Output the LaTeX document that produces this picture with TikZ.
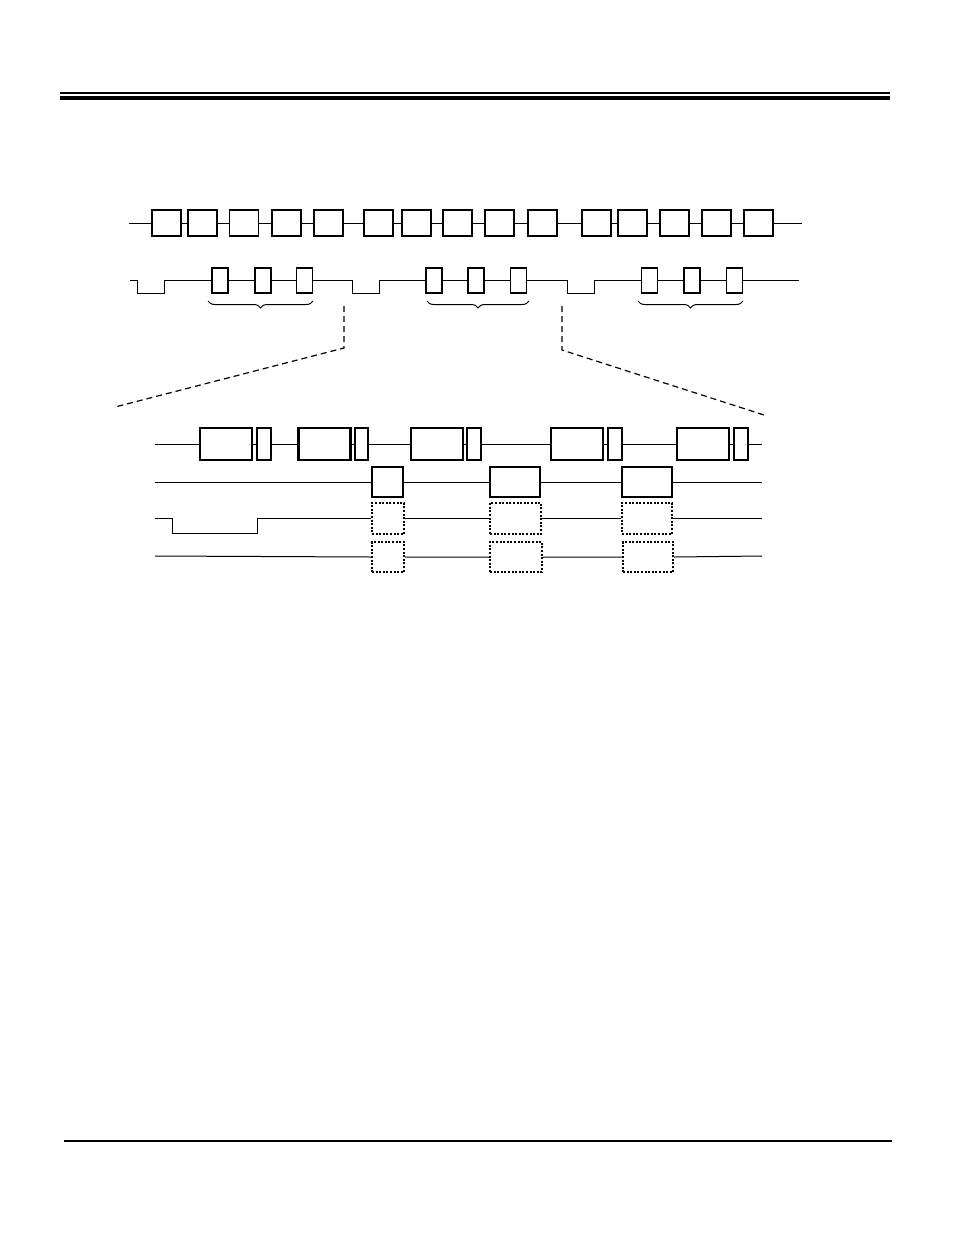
\documentclass[tikz,border=0pt]{standalone}
\usetikzlibrary{decorations.pathreplacing}
\begin{document}
\begin{tikzpicture}[x=1pt,y=-1pt,
  wire/.style={line width=1pt},
  tbox/.style={draw,fill=white,line width=1.5pt,inner sep=0pt,minimum width=29pt,minimum height=26pt},
  sbox/.style={draw,fill=white,line width=1.4pt,inner sep=0pt,minimum width=16pt,minimum height=25pt},
  bigbox/.style={draw,fill=white,line width=2.2pt,inner sep=0pt,minimum height=32pt},
  midbox/.style={draw,fill=white,line width=2pt,inner sep=0pt,minimum height=30pt},
  dotbox/.style={draw,fill=white,line width=2pt,dash pattern=on 2pt off 1.6pt,inner sep=0pt,minimum height=30pt},
  zoomline/.style={line width=1.2pt,dash pattern=on 6pt off 4pt},
  grp/.style={line width=1pt,decorate,decoration={brace,mirror,amplitude=7pt}}]
\useasboundingbox (0,0) rectangle (954,1235);
% page rules
\draw[line width=1.3pt] (60,93) -- (890,93);
\draw[line width=4pt] (60,98) -- (890,98);
\draw[line width=2.5pt] (64,1141) -- (892,1141);

% ---------- top row ----------
\coordinate (ts) at (129,223);
\coordinate (te) at (802,223);
\foreach \i/\x in {1/166.5,2/202.5,3/244,4/286.5,5/328.5,6/378.5,7/416.5,8/457.5,9/499.5,10/542.5,11/596.5,12/632.5,13/674.5,14/716.5,15/758.5}
  \node[tbox] (t\i) at (\x,223) {};
\draw[wire] (ts) -- (t1) -- (t2) -- (t3) -- (t4) -- (t5) -- (t6) -- (t7) -- (t8) -- (t9) -- (t10) -- (t11) -- (t12) -- (t13) -- (t14) -- (t15) -- (te);

% ---------- second row ----------
\foreach \i/\x in {1/220,2/263,3/304.5,4/434,5/476,6/518.5,7/649.5,8/692,9/734.5}
  \node[sbox] (s\i) at (\x,280.5) {};
\coordinate (ss) at (130,280.5);
\coordinate (se) at (799,280.5);
\draw[wire] (ss) -- (137,280.5) -- (137,293) -- (164,293) -- (164,280.5) -- (s1) -- (s2) -- (s3)
  -- (352,280.5) -- (352,293) -- (379,293) -- (379,280.5) -- (s4) -- (s5) -- (s6)
  -- (567,280.5) -- (567,293) -- (594,293) -- (594,280.5) -- (s7) -- (s8) -- (s9) -- (se);

% braces
\draw[grp] (208,301) -- (313,301);
\draw[grp] (427,301) -- (529,301);
\draw[grp] (638,301) -- (743,301);

% zoom lines
\coordinate (zl0) at (344,306);
\coordinate (zl1) at (344,348);
\coordinate (zl2) at (115,407);
\coordinate (zr0) at (562,306);
\coordinate (zr1) at (562,350);
\coordinate (zr2) at (764,415);
\draw[zoomline] (zl0) -- (zl1) -- (zl2);
\draw[zoomline] (zr0) -- (zr1) -- (zr2);

% ---------- detail row 1 ----------
\foreach \i/\x in {1/226,2/324.5,3/437,4/577,5/703}
  \node[bigbox,minimum width=52pt] (b\i) at (\x,444) {};
\foreach \i/\x/\w in {1/264/14,2/361.5/13,3/474/14,4/614.5/14,5/741/14}
  \node[bigbox,line width=2pt,minimum width=\w pt] (c\i) at (\x,444) {};
\coordinate (r1s) at (155,444);
\coordinate (r1e) at (762,444);
\draw[wire] (r1s) -- (b1) -- (c1) -- (b2) -- (c2) -- (b3) -- (c3) -- (b4) -- (c4) -- (b5) -- (c5) -- (r1e);

% ---------- detail row 2 ----------
\node[midbox,minimum width=31pt] (m1) at (387.5,482) {};
\node[midbox,minimum width=50pt] (m2) at (515,482) {};
\node[midbox,minimum width=50pt] (m3) at (647,482) {};
\coordinate (r2s) at (155,482);
\coordinate (r2e) at (762,482);
\draw[wire] (r2s) -- (m1) -- (m2) -- (m3) -- (r2e);

% ---------- detail row 3 ----------
\node[dotbox,minimum width=32pt,minimum height=31pt] (d1) at (388,518.5) {};
\node[dotbox,minimum width=51pt,minimum height=31pt] (d2) at (515.5,518.5) {};
\node[dotbox,minimum width=50pt,minimum height=31pt] (d3) at (647,518.5) {};
\coordinate (r3s) at (155,518.5);
\coordinate (r3e) at (762,518.5);
\draw[wire] (r3s) -- (172,518.5) -- (172,533.5) -- (257,533.5) -- (257,518.5) -- (d1) -- (d2) -- (d3) -- (r3e);

% ---------- detail row 4 ----------
\node[dotbox,minimum width=32pt] (e1) at (388,557) {};
\node[dotbox,minimum width=52pt] (e2) at (516,557) {};
\node[dotbox,minimum width=50pt] (e3) at (648,557) {};
\coordinate (r4s) at (155,556);
\coordinate (r4e) at (762,556);
\draw[wire] (r4s) -- (e1.west) (e1.east) -- (e2.west) (e2.east) -- (e3.west) (e3.east) -- (r4e);
\end{tikzpicture}
\end{document}
